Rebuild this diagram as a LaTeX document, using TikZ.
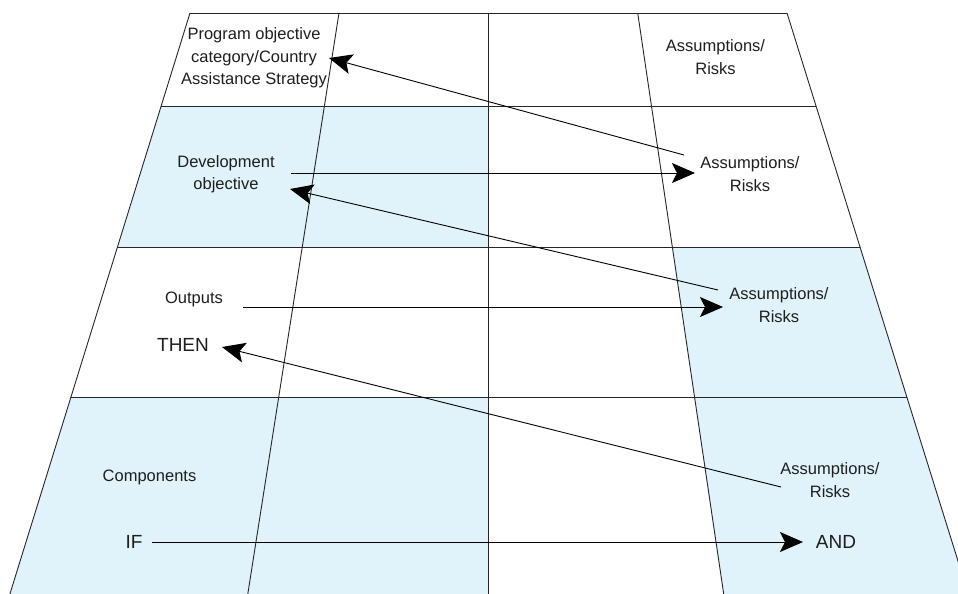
\documentclass[tikz,border=0pt]{standalone}
\usepackage{fontspec}
\setmainfont{Liberation Sans}
\usetikzlibrary{arrows.meta}
\definecolor{bandblue}{RGB}{224,242,250}
\definecolor{ink}{RGB}{30,30,30}
\begin{document}
\begin{tikzpicture}[x=1pt,y=-1pt,
  lbl/.style={font=\fontsize{16.5}{22.3}\selectfont, text=ink, align=center, inner sep=0pt},
  big/.style={font=\fontsize{19}{22}\selectfont, text=ink, inner sep=0pt},
  gridline/.style={draw=black!85, line width=0.9pt},
  arr/.style={draw=black, line width=0.9pt, -{Stealth[length=23pt,width=20pt,inset=5pt]}},
  bandfill/.style={fill=bandblue, draw=none}]
\useasboundingbox (0,0) rectangle (958,594);
\begin{scope}
\clip (0,0) rectangle (958,594);
% shaded cells
\path[bandfill] (161.2,106) -- (488,106) -- (488,247) -- (117.5,247) -- cycle;
\path[bandfill] (672.3,247) -- (860,247) -- (906.8,397) -- (694.5,397) -- cycle;
\path[bandfill] (71,397) -- (488,397) -- (488,594) -- (9.9,594) -- cycle;
\path[bandfill] (694.5,397) -- (906.8,397) -- (968.3,594) -- (723.7,594) -- cycle;
% grid
\draw[gridline] (190,13) -- (787,13);
\draw[gridline] (161.2,106) -- (816,106);
\draw[gridline] (117.5,247) -- (860,247);
\draw[gridline] (71,397) -- (906.8,397);
\draw[gridline] (190,13) -- (9.9,594);
\draw[gridline] (787,13) -- (968.3,594);
\draw[gridline] (339,13) -- (247.8,594);
\draw[gridline] (488,13) -- (488,594);
\draw[gridline] (637.7,13) -- (723.7,594);
\end{scope}
% labels
\node[lbl] (prog) at (254,58) {Program objective\\category/Country\\Assistance Strategy};
\node[lbl] (dev) at (226,174) {Development\\objective};
\node[lbl] (out) at (194,299) {Outputs};
\node[big] (then) at (183,345) {THEN};
\node[lbl] (comp) at (149.5,477) {Components};
\node[big] (if) at (134,542) {IF};
\node[big] (and) at (836,542) {AND};
\node[lbl] (ar1) at (715.5,57) {Assumptions/\\Risks};
\node[lbl] (ar2) at (750,174) {Assumptions/\\Risks};
\node[lbl] (ar3) at (779,305) {Assumptions/\\Risks};
\node[lbl] (ar4) at (830,480) {Assumptions/\\Risks};
% connector ends
\coordinate (a1s) at (684,155);
\coordinate (a1e) at (329,58);
\coordinate (a2s) at (291,173);
\coordinate (a2e) at (695,173);
\coordinate (a3s) at (718,290);
\coordinate (a3e) at (290,189);
\coordinate (a4s) at (243,307);
\coordinate (a4e) at (723,307);
\coordinate (a5s) at (781,487);
\coordinate (a5e) at (222,347);
\coordinate (a6s) at (152,542);
\coordinate (a6e) at (803,542);
\draw[arr] (a1s) -- (a1e);
\draw[arr] (a2s) -- (a2e);
\draw[arr] (a3s) -- (a3e);
\draw[arr] (a4s) -- (a4e);
\draw[arr] (a5s) -- (a5e);
\draw[arr] (a6s) -- (a6e);
\end{tikzpicture}
\end{document}
